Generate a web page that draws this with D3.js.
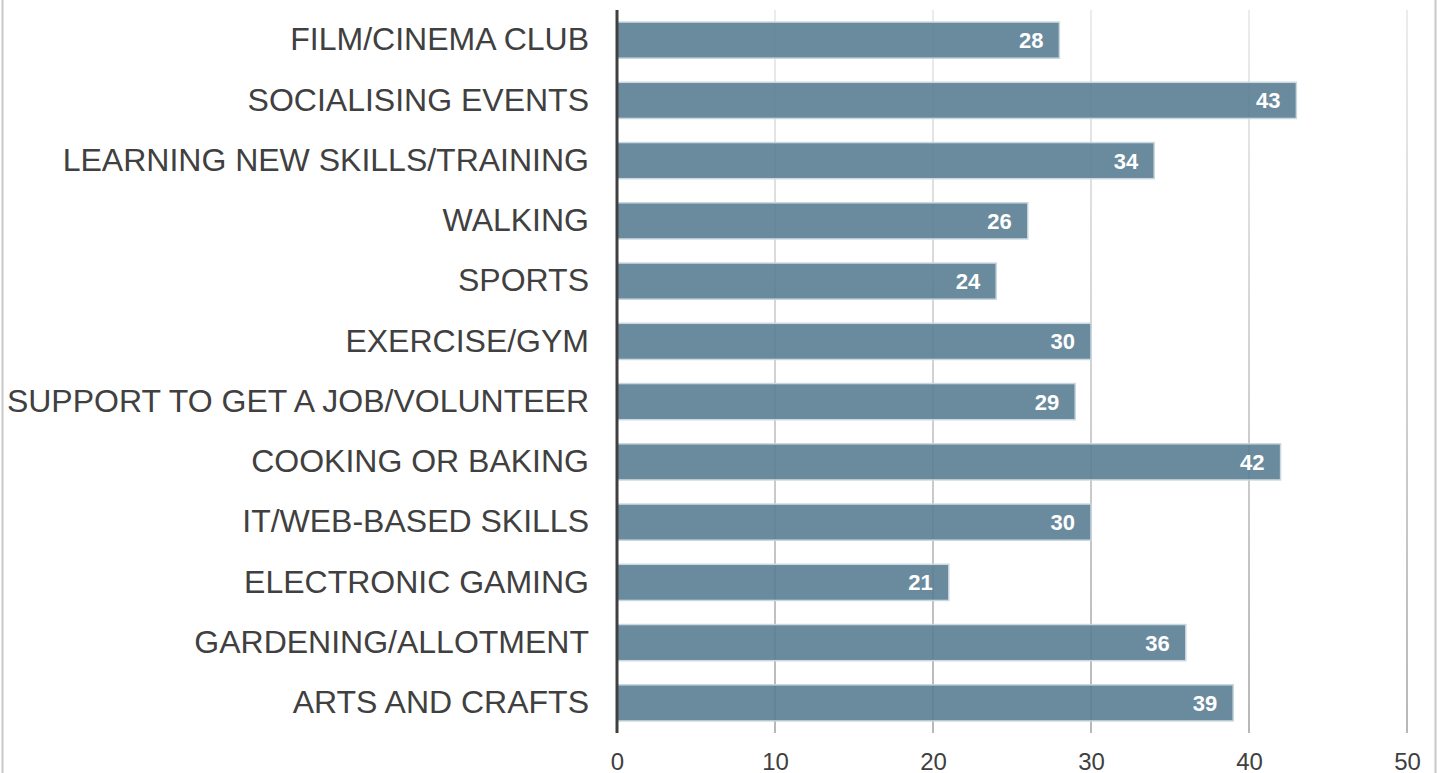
<!DOCTYPE html>
<html>
<head>
<meta charset="utf-8">
<script src="https://cdn.jsdelivr.net/npm/d3@7"></script>
<style>
  body { margin: 0; background: #fff; }
  svg { display: block; font-family: "Liberation Sans", Arial, sans-serif; }
</style>
</head>
<body>
<svg width="1437" height="773"></svg>
<script>
const categories = [
    "FILM/CINEMA CLUB",
    "SOCIALISING EVENTS",
    "LEARNING NEW SKILLS/TRAINING",
    "WALKING",
    "SPORTS",
    "EXERCISE/GYM",
    "SUPPORT TO GET A JOB/VOLUNTEER",
    "COOKING OR BAKING",
    "IT/WEB-BASED SKILLS",
    "ELECTRONIC GAMING",
    "GARDENING/ALLOTMENT",
    "ARTS AND CRAFTS",
];
const values = [28, 43, 34, 26, 24, 30, 29, 42, 30, 21, 36, 39];
const xTicks = [0, 10, 20, 30, 40, 50];

const data = categories.map((c, i) => ({ "name": c, "value": values[i] }));

const svg    = d3.select("svg");
const width  = +svg.attr("width");
const height = +svg.attr("height");

const plotTop = 10, plotBottom = 733, plotLeft = 617, plotRight = 1407;

const x = d3.scaleLinear().domain([0, 50]).range([plotLeft, plotRight]);
const y = d3.scaleBand()
    .domain(categories)
    .range([plotTop, plotBottom])
    .paddingInner(0.4)
    .paddingOuter(0.2);

// frame lines at the left and right edges
svg.append("line").attr("x1", 2.5).attr("x2", 2.5).attr("y1", 0).attr("y2", height)
    .attr("stroke", "#c8c8c8").attr("stroke-width", 2);
svg.append("line").attr("x1", 1435.5).attr("x2", 1435.5).attr("y1", 0).attr("y2", height)
    .attr("stroke", "#c8c8c8").attr("stroke-width", 2);

const grad = svg.append("defs").append("linearGradient")
    .attr("id", "gridfade")
    .attr("gradientUnits", "userSpaceOnUse")
    .attr("x1", 0).attr("y1", plotTop).attr("x2", 0).attr("y2", plotBottom);
grad.append("stop").attr("offset", "0%").attr("stop-color", "#e6e6e6");
grad.append("stop").attr("offset", "100%").attr("stop-color", "#a0a0a0");

svg.append("g")
    .selectAll("rect")
    .data(xTicks.filter(d => d > 0))
    .enter().append("rect")
        .attr("x", d => x(d) - 0.75)
        .attr("y", plotTop)
        .attr("width", 1.5)
        .attr("height", plotBottom - plotTop)
        .attr("fill", "url(#gridfade)");

svg.append("g")
    .selectAll("rect")
    .data(data)
    .enter().append("rect")
        .attr("x", x(0))
        .attr("y", d => y(d.name))
        .attr("width", d => x(d.value) - x(0))
        .attr("height", y.bandwidth())
        .attr("fill", "#5a7e94")
        .attr("fill-opacity", 0.9)
        .attr("stroke", "#c9d7df")
        .attr("stroke-width", 1.5);

svg.append("g")
    .selectAll("text")
    .data(data)
    .enter().append("text")
        .attr("x", d => x(d.value) - 16)
        .attr("y", d => y(d.name) + y.bandwidth() / 2)
        .attr("dy", "0.36em")
        .attr("text-anchor", "end")
        .attr("fill", "#fff")
        .attr("font-weight", "bold")
        .attr("font-size", 22)
        .text(d => d.value);

// category labels
const yAxis = svg.append("g")
    .attr("transform", "translate(" + plotLeft + ",0)")
    .call(d3.axisLeft(y).tickSize(0).tickPadding(28));
yAxis.select(".domain").remove();
yAxis.selectAll("text")
    .attr("font-size", 32)
    .attr("dy", "0.32em")
    .attr("font-family", "Liberation Sans, Arial, sans-serif")
    .attr("fill", "#404040");

// value axis labels
const xAxis = svg.append("g")
    .attr("transform", "translate(0," + plotBottom + ")")
    .call(d3.axisBottom(x).tickValues(xTicks).tickSize(0).tickPadding(20));
xAxis.select(".domain").remove();
xAxis.selectAll("text")
    .attr("font-size", 24)
    .attr("font-family", "Liberation Sans, Arial, sans-serif")
    .attr("fill", "#404040");

// zero line
svg.append("line")
    .attr("x1", x(0)).attr("x2", x(0))
    .attr("y1", plotTop).attr("y2", plotBottom)
    .attr("stroke", "#404040")
    .attr("stroke-width", 3);
</script>
</body>
</html>
